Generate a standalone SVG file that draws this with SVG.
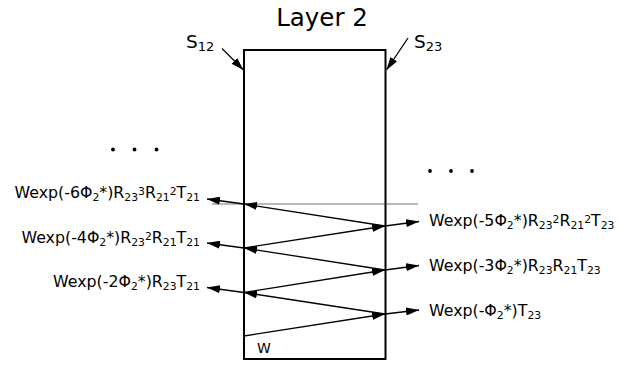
<svg xmlns="http://www.w3.org/2000/svg" width="627" height="366" viewBox="0 0 627 366">
<style>
text{font-family:"DejaVu Sans","Liberation Sans",sans-serif;fill:#000}
.lbl{font-size:15.8px}
.s{font-size:10.8px}
.ln{stroke:#000;stroke-width:1.3;fill:none}
</style>
<defs>
<marker id="ah" markerUnits="userSpaceOnUse" markerWidth="14" markerHeight="8" refX="13" refY="4" orient="auto" viewBox="0 0 14 8">
<path d="M0,0 L13,4 L0,8 z" fill="#000"/>
</marker>
</defs>
<rect width="627" height="366" fill="#fff"/>
<text x="322" y="26" font-size="24.5" text-anchor="middle">Layer 2</text>
<g id="layer">
<rect x="244" y="50" width="141.5" height="309" fill="none" stroke="#000" stroke-width="2"/>
<text x="257" y="353" font-size="14">W</text>
</g>
<g id="s12">
<text x="186" y="48" font-size="18.5">S<tspan font-size="13" dy="3">12</tspan></text>
</g>
<g id="s23">
<text x="414" y="48" font-size="18.5">S<tspan font-size="13" dy="3">23</tspan></text>
</g>
<g id="dots" fill="#000">
<circle cx="113" cy="149.5" r="1.9"/><circle cx="134.5" cy="149.5" r="1.9"/><circle cx="156.5" cy="149.5" r="1.9"/>
<circle cx="430" cy="171" r="1.9"/><circle cx="451" cy="171" r="1.9"/><circle cx="472" cy="171" r="1.9"/>
</g>
<g id="connectors">
<line x1="222" y1="48.5" x2="243.5" y2="70" class="ln" marker-end="url(#ah)"/>
<line x1="408" y1="38" x2="386.5" y2="70" class="ln" marker-end="url(#ah)"/>
<line x1="212" y1="204" x2="418" y2="204" stroke="#333" stroke-width="0.7"/>
<line x1="244" y1="336" x2="385" y2="314" class="ln" marker-end="url(#ah)"/>
<line x1="385" y1="314" x2="244" y2="292.5" class="ln" marker-end="url(#ah)"/>
<line x1="244" y1="292.5" x2="385" y2="270" class="ln" marker-end="url(#ah)"/>
<line x1="385" y1="270" x2="244" y2="248" class="ln" marker-end="url(#ah)"/>
<line x1="244" y1="248" x2="385" y2="226" class="ln" marker-end="url(#ah)"/>
<line x1="385" y1="226" x2="244" y2="204" class="ln" marker-end="url(#ah)"/>
<line x1="244" y1="204" x2="207" y2="199" class="ln" marker-end="url(#ah)"/>
<line x1="244" y1="248" x2="207" y2="243" class="ln" marker-end="url(#ah)"/>
<line x1="244" y1="292.5" x2="207" y2="287.5" class="ln" marker-end="url(#ah)"/>
<line x1="385" y1="226" x2="419" y2="221.5" class="ln" marker-end="url(#ah)"/>
<line x1="385" y1="270" x2="419" y2="265.5" class="ln" marker-end="url(#ah)"/>
<line x1="385" y1="314" x2="419" y2="310" class="ln" marker-end="url(#ah)"/>
</g>
<g id="left-labels">
<text class="lbl" x="200" y="198" text-anchor="end">Wexp(-6Φ<tspan class="s" dy="3">2</tspan><tspan dy="-3">*)R</tspan><tspan class="s" dy="3">23</tspan><tspan class="s" dy="-6">3</tspan><tspan dy="3">R</tspan><tspan class="s" dy="3">21</tspan><tspan class="s" dy="-6">2</tspan><tspan dy="3">T</tspan><tspan class="s" dy="3">21</tspan></text>
<text class="lbl" x="200" y="243" text-anchor="end">Wexp(-4Φ<tspan class="s" dy="3">2</tspan><tspan dy="-3">*)R</tspan><tspan class="s" dy="3">23</tspan><tspan class="s" dy="-6">2</tspan><tspan dy="3">R</tspan><tspan class="s" dy="3">21</tspan><tspan dy="-3">T</tspan><tspan class="s" dy="3">21</tspan></text>
<text class="lbl" x="200" y="287" text-anchor="end">Wexp(-2Φ<tspan class="s" dy="3">2</tspan><tspan dy="-3">*)R</tspan><tspan class="s" dy="3">23</tspan><tspan dy="-3">T</tspan><tspan class="s" dy="3">21</tspan></text>
</g>
<g id="right-labels">
<text class="lbl" x="429" y="226">Wexp(-5Φ<tspan class="s" dy="3">2</tspan><tspan dy="-3">*)R</tspan><tspan class="s" dy="3">23</tspan><tspan class="s" dy="-6">2</tspan><tspan dy="3">R</tspan><tspan class="s" dy="3">21</tspan><tspan class="s" dy="-6">2</tspan><tspan dy="3">T</tspan><tspan class="s" dy="3">23</tspan></text>
<text class="lbl" x="429" y="271">Wexp(-3Φ<tspan class="s" dy="3">2</tspan><tspan dy="-3">*)R</tspan><tspan class="s" dy="3">23</tspan><tspan dy="-3">R</tspan><tspan class="s" dy="3">21</tspan><tspan dy="-3">T</tspan><tspan class="s" dy="3">23</tspan></text>
<text class="lbl" x="429" y="316">Wexp(-Φ<tspan class="s" dy="3">2</tspan><tspan dy="-3">*)T</tspan><tspan class="s" dy="3">23</tspan></text>
</g>
</svg>
